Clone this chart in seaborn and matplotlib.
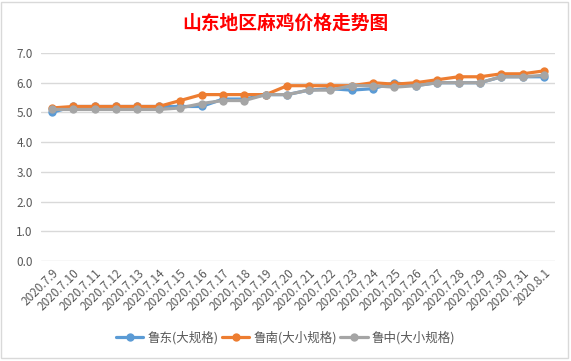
import matplotlib
matplotlib.use("Agg")
import matplotlib.pyplot as plt
import seaborn as sns
import pandas as pd
from matplotlib.patches import Rectangle

dates = ["2020.7.9", "2020.7.10", "2020.7.11", "2020.7.12", "2020.7.13", "2020.7.14",
         "2020.7.15", "2020.7.16", "2020.7.17", "2020.7.18", "2020.7.19", "2020.7.20",
         "2020.7.21", "2020.7.22", "2020.7.23", "2020.7.24", "2020.7.25", "2020.7.26",
         "2020.7.27", "2020.7.28", "2020.7.29", "2020.7.30", "2020.7.31", "2020.8.1"]
ludong = [5.0, 5.2, 5.2, 5.2, 5.2, 5.2, 5.2, 5.2, 5.45, 5.45, 5.6, 5.6,
          5.75, 5.8, 5.75, 5.8, 6.0, 5.9, 6.0, 6.0, 6.0, 6.2, 6.2, 6.2]
lunan = [5.15, 5.2, 5.2, 5.2, 5.2, 5.2, 5.4, 5.6, 5.6, 5.6, 5.6, 5.9,
         5.9, 5.9, 5.9, 6.0, 5.95, 6.0, 6.1, 6.2, 6.2, 6.3, 6.3, 6.4]
luzhong = [5.1, 5.1, 5.1, 5.1, 5.1, 5.1, 5.15, 5.3, 5.4, 5.4, 5.6, 5.6,
           5.75, 5.75, 5.9, 5.9, 5.85, 5.9, 6.0, 6.0, 6.0, 6.2, 6.2, 6.25]
series_names = ["鲁东(大规格)", "鲁南(大小规格)", "鲁中(大小规格)"]
colors = ["#5B9BD5", "#ED7D31", "#A5A5A5"]
yticks = [0.0, 1.0, 2.0, 3.0, 4.0, 5.0, 6.0, 7.0]

sns.set_theme(style="white")
plt.rcParams['font.family'] = ['Noto Sans CJK SC', 'DejaVu Sans']

rows = []
for name, vals in zip(series_names, [ludong, lunan, luzhong]):
    for i, (d, v) in enumerate(zip(dates, vals)):
        rows.append({"idx": i, "date": d, "series": name, "value": v})
df = pd.DataFrame(rows)

W, H = 571, 361
fig = plt.figure(figsize=(W / 100, H / 100), dpi=100)
ax = fig.add_axes([41 / W, 1 - 261 / H, (555 - 41) / W, (261 - 53) / H])

sns.lineplot(data=df, x="idx", y="value", hue="series", hue_order=series_names,
             palette=colors, marker="o", markersize=6, markeredgewidth=0,
             linewidth=2.3, ax=ax, legend=False)

ax.set_xlim(-0.5, len(dates) - 0.5)
ax.set_ylim(0, 7)
ax.set_yticks(yticks)
ax.set_yticklabels([f"{t:.1f}" for t in yticks], color="#595959", fontsize=8.5)
ax.set_xticks(range(len(dates)))
ax.set_xticklabels(dates, rotation=45, ha="right", va="top", rotation_mode="anchor",
                   color="#595959", fontsize=8.5)
ax.tick_params(axis="both", length=0, pad=6)
ax.tick_params(axis="x", pad=4)
ax.set_xlabel("")
ax.set_ylabel("")
for s in ax.spines.values():
    s.set_visible(False)
ax.grid(axis="y", color="#D9D9D9", linewidth=1)
ax.set_axisbelow(True)

fig.text(0.5, 1 - 23 / H, "山东地区麻鸡价格走势图", ha="center", va="center",
         color="#FF0000", fontsize=13.5, fontweight="bold")

handles = [plt.Line2D([0], [0], color=c, linewidth=2.3, marker="o", markersize=6,
                      markeredgewidth=0) for c in colors]
fig.legend(handles, series_names, loc="center", bbox_to_anchor=(0.5, 1 - 338 / H),
           ncol=3, frameon=False, fontsize=9, handlelength=2.2, columnspacing=0.3,
           handletextpad=0.3, labelcolor="#595959")

fig.patches.append(Rectangle((1 / W, 1 - 358 / H), 567 / W, 356 / H,
                             transform=fig.transFigure, fill=False,
                             edgecolor="#D9D9D9", linewidth=1))

fig.savefig("out.png", dpi=100, facecolor="white")
